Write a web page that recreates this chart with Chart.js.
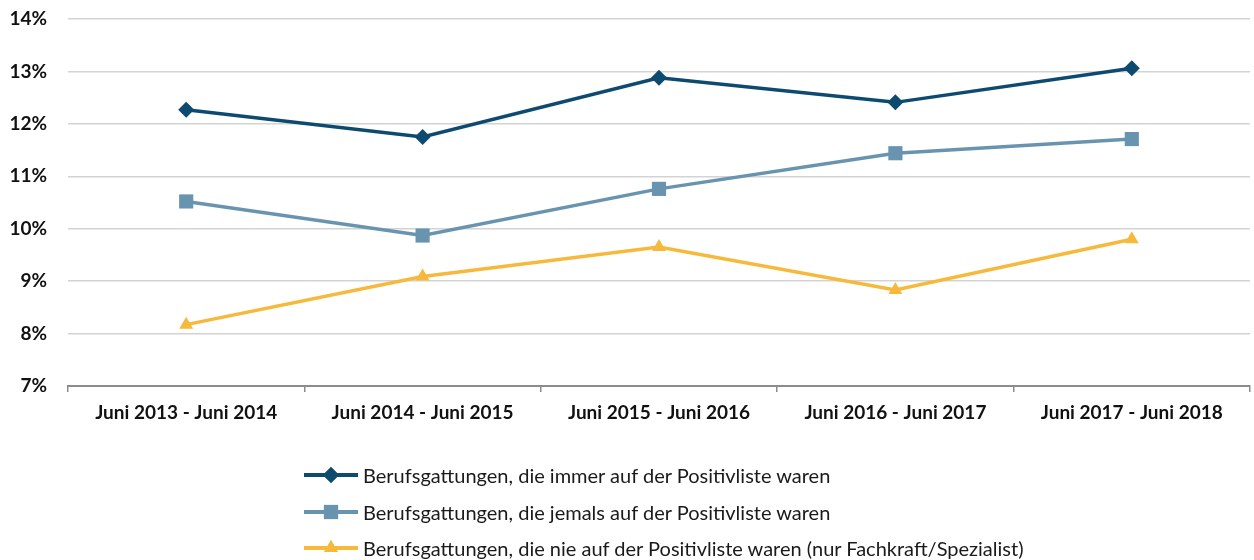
<!DOCTYPE html>
<html>
<head>
<meta charset="utf-8">
<script src="https://cdn.jsdelivr.net/npm/chart.js@4"></script>
<style>
  html, body { margin: 0; background: #fff; overflow: hidden; }
  #wrap { position: relative; width: 1254px; height: 560px; overflow: hidden; }
  #chartBox { position: absolute; left: 0; top: 0; width: 1254px; height: 440px; }
  #legende { position: absolute; left: 303px; top: 457px; font-family: Lato, sans-serif; font-size: 20px; color: #1a1a1a; }
  .eintrag { display: flex; align-items: center; height: 36.5px; }
  .eintrag canvas { margin-right: 4px; }
</style>
</head>
<body>
<div id="wrap">
  <div id="chartBox"><canvas id="linien"></canvas></div>
  <div id="legende"></div>
</div>
<script>
const kategorien = ['Juni 2013 - Juni 2014', 'Juni 2014 - Juni 2015', 'Juni 2015 - Juni 2016', 'Juni 2016 - Juni 2017', 'Juni 2017 - Juni 2018'];
const immer = [12.27, 11.75, 12.88, 12.41, 13.06];
const jemals = [10.52, 9.87, 10.76, 11.44, 11.71];
const nie = [8.17, 9.09, 9.65, 8.83, 9.80];
const namen = [
    'Berufsgattungen, die immer auf der Positivliste waren',
    'Berufsgattungen, die jemals auf der Positivliste waren',
    'Berufsgattungen, die nie auf der Positivliste waren (nur Fachkraft/Spezialist)'
];
const farben = ['#0d4a70', '#6894b0', '#f7b93c'];
const punktStile = ['rectRot', 'rect', 'triangle'];
const punktRadien = [8, 10, 8];

function serie(i, daten) {
    return {
        label: namen[i],
        data: daten,
        borderColor: farben[i],
        backgroundColor: farben[i],
        borderWidth: 3.5,
        pointStyle: punktStile[i],
        pointRadius: punktRadien[i],
        pointHoverRadius: punktRadien[i],
        pointBorderWidth: 0,
        tension: 0
    };
}

const ctx = document.getElementById('linien').getContext('2d');
const chart = new Chart(ctx, {
    type: 'line',
    data: {
        labels: kategorien,
        datasets: [serie(0, immer), serie(1, jemals), serie(2, nie)]
    },
    options: {
        responsive: true,
        maintainAspectRatio: false,
        animation: false,
        layout: { autoPadding: false, padding: { top: 19, right: 4, bottom: 0, left: 0 } },
        plugins: { legend: { display: false }, tooltip: { enabled: false } },
        scales: {
            x: {
                offset: true,
                grid: { offset: true, drawOnChartArea: false, drawTicks: true, tickLength: 6, color: '#8c8c8c', lineWidth: 1.5 },
                border: { color: '#8c8c8c', width: 2 },
                ticks: { color: '#111', padding: 9, font: { family: 'Lato', size: 19, weight: 'bold' }, maxRotation: 0 },
                afterFit: function(scale) {
                    scale.height = 54;
                    scale.paddingLeft = 0;
                    scale.paddingRight = 0;
                }
            },
            y: {
                min: 7,
                max: 14,
                grid: { color: '#d3d3d3', lineWidth: 1.5, drawTicks: false },
                border: { display: false },
                ticks: {
                    stepSize: 1,
                    padding: 21,
                    color: '#111',
                    font: { family: 'Lato', size: 19, weight: 'bold' },
                    callback: function(v) { return v + '%'; }
                },
                afterFit: function(scale) {
                    scale.width = 68;
                    scale.paddingTop = 0;
                    scale.paddingBottom = 0;
                }
            }
        }
    }
});

// Legende als HTML, mit kleinen Canvas-Symbolen (Linie + Marker)
const legende = document.getElementById('legende');
chart.data.datasets.forEach(function(ds, i) {
    const zeile = document.createElement('div');
    zeile.className = 'eintrag';
    const c = document.createElement('canvas');
    c.width = 56; c.height = 20;
    const g = c.getContext('2d');
    g.strokeStyle = ds.borderColor;
    g.lineWidth = 4;
    g.beginPath(); g.moveTo(1, 10); g.lineTo(55, 10); g.stroke();
    g.fillStyle = ds.backgroundColor;
    Chart.helpers.drawPoint(g, { pointStyle: ds.pointStyle, radius: ds.pointRadius, borderWidth: 0 }, 28, 10);
    g.fill();
    zeile.appendChild(c);
    const t = document.createElement('span');
    t.textContent = ds.label;
    zeile.appendChild(t);
    legende.appendChild(zeile);
});
</script>
</body>
</html>
